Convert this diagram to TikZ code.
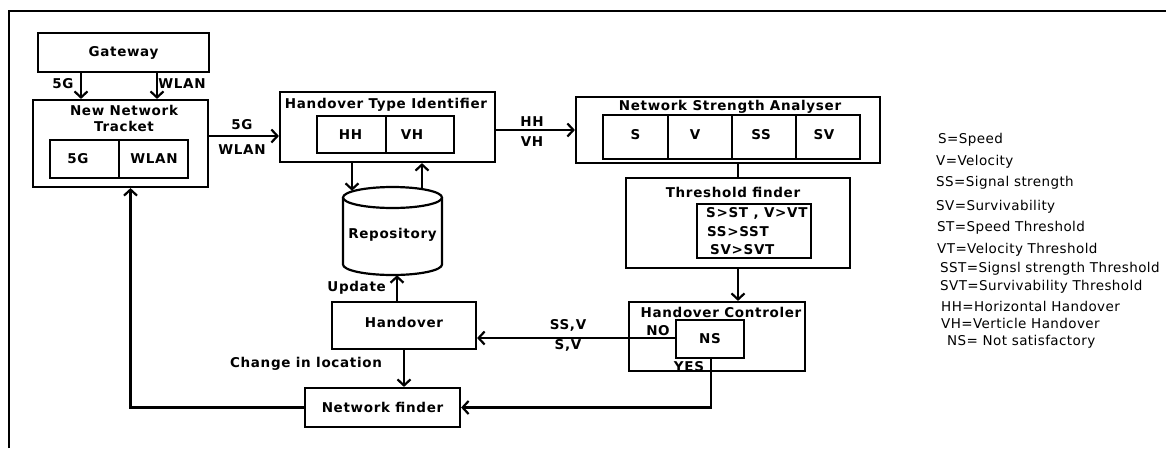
\documentclass[tikz,border=0pt]{standalone}
\usepackage{fontspec}
\setmainfont{DejaVu Sans}
\newfontfamily\lblfam[LetterSpace=5]{DejaVu Sans}
\newfontfamily\legfam[LetterSpace=3]{DejaVu Sans}
\usetikzlibrary{arrows.meta}
\tikzset{
  lbl/.style={font=\lblfam\bfseries\fontsize{13.5}{16}\selectfont, inner sep=0pt},
  box/.style={draw, line width=2.2pt, inner sep=0pt, lbl},
  conn/.style={line width=2.2pt},
  arr/.style={line width=2.2pt, -{Straight Barb[length=6pt,width=13pt]}},
  leg/.style={font=\legfam\fontsize{13.5}{16}\selectfont, anchor=west, inner sep=0pt}
}
\begin{document}
\begin{tikzpicture}[x=1pt,y=-1pt]
\useasboundingbox (0,0) rectangle (1166,448);
% frame
\draw[line width=2.6pt] (9,448) -- (9,11) -- (1166,11);

% Gateway
\node[box, minimum width=171pt, minimum height=39pt] (gw) at (123.5,52.5) {Gateway};
% New Network Tracket
\node[box, minimum width=175pt, minimum height=87pt] (nnt) at (120.5,143.5) {};
\node[lbl, align=center] (nntt) at (124,118) {New Network\\[0pt]Tracket};
\node[box, minimum width=69pt, minimum height=38pt] (n5g) at (84.5,159) {};
\node[box, minimum width=69pt, minimum height=38pt] (nwl) at (153.5,159) {};
\node[lbl] (n5gt) at (78,159) {5G};
\node[lbl] (nwlt) at (154,159) {WLAN};

% Handover Type Identifier
\node[box, minimum width=215pt, minimum height=70pt] (hti) at (387.5,127) {};
\node[lbl] (htit) at (386,105) {Handover Type Identifier};
\node[box, minimum width=69pt, minimum height=37pt] (hh) at (351.5,134.5) {};
\node[box, minimum width=68pt, minimum height=37pt] (vh) at (420,134.5) {};
\node[lbl] (hht) at (350.5,134.5) {HH};
\node[lbl] (vht) at (412,134.5) {VH};

% Network Strength Analyser
\node[box, minimum width=304pt, minimum height=66pt] (nsa) at (728,130) {};
\node[lbl] (nsat) at (730,107) {Network Strength Analyser};
\node[box, minimum width=65pt, minimum height=44pt] (bs) at (635.5,137) {};
\node[box, minimum width=64pt, minimum height=44pt] (bv) at (700,137) {};
\node[box, minimum width=64pt, minimum height=44pt] (bss) at (764,137) {};
\node[box, minimum width=64pt, minimum height=44pt] (bsv) at (828,137) {};
\node[lbl] (bst) at (635.5,135) {S};
\node[lbl] (bvt) at (695,135) {V};
\node[lbl] (bsst) at (761,135) {SS};
\node[lbl] (bsvt) at (824,135) {SV};

% Threshold finder
\node[box, minimum width=224pt, minimum height=90pt] (tf) at (738,223) {};
\node[lbl] (tft) at (733,192) {Threshold finder};
\node[box, minimum width=114pt, minimum height=54pt] (tfi) at (754,231) {};
\node[lbl, anchor=west] (c1) at (706,213) {S>ST , V>VT};
\node[lbl, anchor=west] (c2) at (707,232) {SS>SST};
\node[lbl, anchor=west] (c3) at (710,250) {SV>SVT};

% Handover Controler
\node[box, minimum width=176pt, minimum height=69pt] (hc) at (717,336.5) {};
\node[lbl] (hct) at (721,312) {Handover Controler};
\node[box, fill=white, minimum width=68pt, minimum height=38pt] (ns) at (710,339) {NS};

% Repository cylinder
\node[minimum width=99pt, minimum height=88pt, inner sep=0pt] (repo) at (392.5,231) {};
\draw[conn] (343,197.5) -- (343,264.5) arc[start angle=180, end angle=360, x radius=49.5pt, y radius=10.5pt] -- (442,197.5);
\draw[conn] (392.5,197.5) ellipse [x radius=49.5pt, y radius=10.5pt];
\node[lbl] (repot) at (392.5,235) {Repository};

% Handover
\node[box, minimum width=144pt, minimum height=47pt] (ho) at (404,325.5) {};
\node[lbl] (hot) at (404,322) {Handover};
% Network finder
\node[box, minimum width=155pt, minimum height=39pt] (nf) at (382.5,407.5) {Network finder};

% connectors
\draw[arr] ([xshift=-42.5pt]gw.south) -- ([xshift=-39.5pt]nnt.north);
\draw[arr] ([xshift=33.5pt]gw.south) -- ([xshift=36.5pt]nnt.north);
\node[lbl] (l5g1) at (63,84) {5G};
\node[lbl] (lwl1) at (182,84) {WLAN};

\draw[arr] ([yshift=7.5pt]nnt.east) -- ([yshift=-9pt]hti.west);
\node[lbl] (l5g2) at (242,125) {5G};
\node[lbl] (lwl2) at (242,150) {WLAN};

\draw[arr] ([yshift=-3pt]hti.east) -- (nsa.west);
\node[lbl] (lhh) at (532,122) {HH};
\node[lbl] (lvh) at (532,142) {VH};

\draw[arr] ([xshift=-35.5pt]hti.south) -- ([xshift=-40.5pt,yshift=-4pt]repo.north);
\draw[arr] ([xshift=29.5pt,yshift=-2pt]repo.north) -- ([xshift=34.5pt]hti.south);

\draw[conn] ([xshift=10pt]nsa.south) -- (tf.north);
\draw[arr] (tf.south) -- ([xshift=21pt]hc.north);

\draw[arr] ([xshift=-7pt]ho.north) -- ([xshift=4.5pt]repo.south);
\node[lbl, anchor=east] (lup) at (386,288) {Update};

\draw[arr] (ho.south) -- ([xshift=21.5pt]nf.north);
\node[lbl] (lcl) at (306,364) {Change in location};

\draw[arr] ([yshift=1pt]ns.west) -- ([yshift=-12.5pt]ho.east);
\node[lbl] (lssv) at (568,325) {SS,V};
\node[lbl] (lsv) at (568,345) {S,V};
\node[lbl] (lno) at (658,331) {NO};
\node[lbl] (lyes) at (689,367) {YES};

\draw[arr] ([xshift=1pt]ns.south) |- (nf.east);
\draw[arr] (nf.west) -| ([xshift=10pt]nnt.south);

% legend
\node[leg] (g1) at (938,140) {S=Speed};
\node[leg] (g2) at (936,162) {V=Velocity};
\node[leg] (g3) at (936,183) {SS=Signal strength};
\node[leg] (g4) at (936,207) {SV=Survivability};
\node[leg] (g5) at (937,228) {ST=Speed Threshold};
\node[leg] (g6) at (937,250) {VT=Velocity Threshold};
\node[leg] (g7) at (940,269) {SST=Signsl strength Threshold};
\node[leg] (g8) at (940,287) {SVT=Survivability Threshold};
\node[leg] (g9) at (941,306) {HH=Horizontal Handover};
\node[leg] (g10) at (941,323) {VH=Verticle Handover};
\node[leg] (g11) at (947,342) {NS= Not satisfactory};
\end{tikzpicture}
\end{document}
